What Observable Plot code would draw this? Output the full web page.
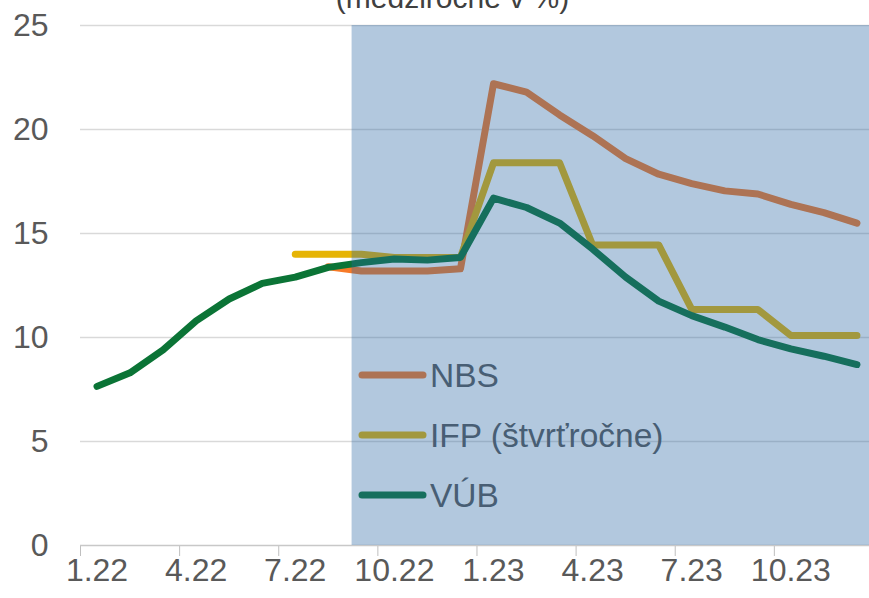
<!DOCTYPE html>
<html>
<head>
<meta charset="utf-8">
<script src="https://cdn.jsdelivr.net/npm/d3@7"></script>
<script src="https://cdn.jsdelivr.net/npm/@observablehq/plot@0.6"></script>
<style>
html, body { margin: 0; padding: 0; background: #fff; overflow: hidden; width: 869px; height: 598px; }
#wrap { position: relative; width: 869px; height: 598px; overflow: hidden; }
#title { position: absolute; left: 18px; width: 869px; top: -17px; text-align: center;
  font: 30px/30px "Liberation Sans", Arial, sans-serif; color: #404040; z-index: 2; white-space: nowrap; }
#chart { position: absolute; left: 0; top: 0; }
</style>
</head>
<body>
<div id="wrap">
  <div id="title">(medziročne v %)</div>
  <div id="chart"></div>
</div>
<script>
const months = ["1.22","2.22","3.22","4.22","5.22","6.22","7.22","8.22","9.22","10.22","11.22","12.22",
                "1.23","2.23","3.23","4.23","5.23","6.23","7.23","8.23","9.23","10.23","11.23","12.23"];
const nbs = [null,null,null,null,null,null,null,13.4,13.2,13.2,13.2,13.3,
             22.2,21.8,20.7,19.7,18.6,17.85,17.4,17.05,16.9,16.4,16.0,15.5];
const ifp = [null,null,null,null,null,null,14.0,14.0,14.0,13.85,13.85,13.85,
             18.4,18.4,18.4,14.45,14.45,14.45,11.35,11.35,11.35,10.1,10.1,10.1];
const vub = [7.65,8.3,9.4,10.8,11.85,12.6,12.9,13.37,13.6,13.77,13.72,13.85,
             16.7,16.25,15.5,14.25,12.9,11.75,11.05,10.5,9.9,9.45,9.1,8.7];
const seriesNames = ["NBS","IFP (štvrťročne)","VÚB"];
const seriesValues = [nbs, ifp, vub];
const seriesColors = ["#f77a28","#e6b405","#0b7436"];
const yTicks = [0,5,10,15,20,25];
const xLabelIdx = [0,3,6,9,12,15,18,21];
const xTickBounds = [-0.5,2.5,5.5,8.5,11.5,14.5,17.5,20.5];
const shade = [{x1: 7.72, x2: 23.6, y1: 0, y2: 25}];

const font = '"Liberation Sans", Arial, sans-serif';

const lineMarks = seriesValues.map((vals, s) =>
  Plot.line(
    vals.map((v, i) => ({i, v})).filter(d => d.v != null),
    {x: "i", y: "v", stroke: seriesColors[s], strokeWidth: 7, strokeLinejoin: "round", strokeLinecap: "round"}
  )
);

// legend (inside plot, drawn beneath the shading)
const legendMark = () => {
  const g = d3.create("svg:g").attr("text-anchor", "start");
  seriesNames.forEach((name, k) => {
    const y = 375 + k * 60;
    g.append("line").attr("x1", 362).attr("x2", 423).attr("y1", y).attr("y2", y)
      .attr("stroke", seriesColors[k]).attr("stroke-width", 7).attr("stroke-linecap", "round");
    g.append("text").attr("x", 430).attr("y", y).attr("dy", "0.36em").attr("text-anchor", "start")
      .attr("fill", "#595959").attr("font-size", 33.5).attr("font-family", font).text(name);
  });
  return g.node();
};

const plot = Plot.plot({
  width: 869,
  height: 598,
  marginLeft: 80,
  marginRight: 0,
  marginTop: 25,
  marginBottom: 53,
  style: {fontFamily: font, color: "#bfbfbf", background: "transparent", overflow: "hidden"},
  x: {domain: [-0.5, 23.38], ticks: xTickBounds, tickFormat: () => "", tickSize: 11, label: null},
  y: {domain: [0, 25], axis: null},
  marks: [
    Plot.ruleY(yTicks.filter(d => d > 0), {y: d => d, stroke: "#d9d9d9", strokeWidth: 1.5}),
    Plot.ruleY([0], {y: d => d, stroke: "#c8c8c8", strokeWidth: 1.5}),
    ...lineMarks,
    legendMark,
    Plot.rect(shade, {x1: "x1", x2: "x2", y1: "y1", y2: "y2", fill: "#2a66a3", fillOpacity: 0.36}),
    Plot.text(yTicks, {y: d => d, text: d => String(d), frameAnchor: "left", dx: -32, textAnchor: "end",
      fontSize: 32, fill: "#595959"}),
    Plot.text(xLabelIdx, {x: d => d, text: d => months[d], frameAnchor: "bottom", dy: 35,
      fontSize: 32, fill: "#595959"})
  ]
});
document.getElementById("chart").appendChild(plot);
</script>
</body>
</html>
